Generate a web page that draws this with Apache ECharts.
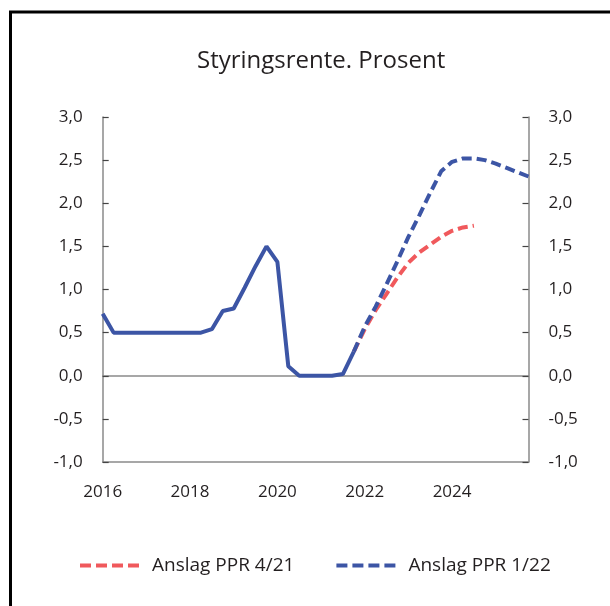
<!DOCTYPE html>
<html>
<head>
<meta charset="utf-8">
<script src="https://cdn.jsdelivr.net/npm/echarts@6/dist/echarts.min.js"></script>
<style>
  html, body { margin: 0; padding: 0; background: #fff; }
  #chart { width: 610px; height: 606px; }
</style>
</head>
<body>
<div id="chart"></div>
<script>
const title = 'Styringsrente. Prosent';
const quarters = [
  '2016K1','2016K2','2016K3','2016K4','2017K1','2017K2','2017K3','2017K4',
  '2018K1','2018K2','2018K3','2018K4','2019K1','2019K2','2019K3','2019K4',
  '2020K1','2020K2','2020K3','2020K4','2021K1','2021K2','2021K3','2021K4',
  '2022K1','2022K2','2022K3','2022K4','2023K1','2023K2','2023K3','2023K4',
  '2024K1','2024K2','2024K3','2024K4','2025K1','2025K2','2025K3','2025K4'
];
// Actual policy rate, 2016K1 - 2021K4
const historyValues = [0.72,0.5,0.5,0.5,0.5,0.5,0.5,0.5,0.5,0.5,0.54,0.75,0.78,1.02,1.27,1.5,1.32,0.11,0,0,0,0,0.02,0.28];
// Forecasts, starting 2021K4
const forecastStart = '2021K4';
const ppr421Values = [0.28,0.54,0.76,0.95,1.14,1.31,1.43,1.52,1.61,1.68,1.72,1.74];
const ppr122Values = [0.28,0.57,0.80,1.06,1.33,1.61,1.86,2.12,2.37,2.48,2.52,2.52,2.50,2.46,2.41,2.36,2.31];
const seriesNames = ['Anslag PPR 4/21', 'Anslag PPR 1/22'];
const yMin = -1, yMax = 3, yStep = 0.5;

const FONT = 'Open Sans';
const BLUE = '#3c55a5';
const RED = '#f0595c';
const AXIS = '#8a8a8a';
const TEXT = '#231f20';
const DASH_ICON = 'path://M0,0h11v4h-11z M16,0h11v4h-11z M32,0h11v4h-11z M48,0h11v4h-11z';

function fromStart(values) {
  const s = quarters.indexOf(forecastStart);
  return values.map((v, i) => [quarters[s + i], v]);
}
const fmt = v => v.toFixed(1).replace('.', ',');

const yAxisBase = {
  type: 'value', min: yMin, max: yMax, interval: yStep,
  axisLine: { show: true, lineStyle: { color: AXIS, width: 1.5 } },
  axisTick: { show: true, inside: true, length: 6, lineStyle: { color: '#444', width: 1.2 } },
  splitLine: { show: false },
  axisLabel: { formatter: fmt, color: TEXT, fontFamily: FONT, fontSize: 17, margin: 20 }
};

const chart = echarts.init(document.getElementById('chart'), null, { renderer: 'canvas' });
chart.setOption({
  animation: false,
  backgroundColor: '#fff',
  title: {
    text: title, left: 192, top: 44,
    textStyle: { fontFamily: FONT, fontSize: 24, fontWeight: 'normal', color: TEXT }
  },
  graphic: [{
    type: 'rect', silent: true,
    shape: { x: 10.5, y: 12, width: 800, height: 800 },
    style: { fill: 'none', stroke: '#000', lineWidth: 3 }
  }],
  grid: { left: 102.7, right: 81.5, top: 117, bottom: 144, containLabel: false },
  legend: {
    data: seriesNames.map(n => ({ name: n, icon: DASH_ICON })),
    left: 80, top: 556, padding: 0,
    itemWidth: 59, itemHeight: 4.5, itemGap: 42,
    textStyle: { fontFamily: FONT, fontSize: 19, color: TEXT, padding: [0, 0, 0, 8] }
  },
  xAxis: [{
    type: 'category', data: quarters, boundaryGap: false,
    axisLine: { onZero: false, lineStyle: { color: AXIS, width: 1.5 } },
    axisTick: { show: false },
    axisLabel: {
      interval: i => i % 8 === 0,
      formatter: v => v.slice(0, 4),
      color: TEXT, fontFamily: FONT, fontSize: 17, margin: 22
    },
    splitLine: { show: false }
  }, {
    type: 'category', data: quarters, boundaryGap: false, position: 'bottom',
    axisLine: { onZero: true, lineStyle: { color: AXIS, width: 1.5 } },
    axisTick: { show: false }, axisLabel: { show: false }, splitLine: { show: false }
  }],
  yAxis: [
    Object.assign({}, yAxisBase, { position: 'left' }),
    Object.assign({}, yAxisBase, { position: 'right' })
  ],
  series: [{
    name: seriesNames[0], type: 'line', symbol: 'none', z: 3,
    data: fromStart(ppr421Values),
    lineStyle: { color: RED, width: 4, type: [10, 5] },
    itemStyle: { color: RED }
  }, {
    name: seriesNames[1], type: 'line', symbol: 'none', z: 4,
    data: fromStart(ppr122Values),
    lineStyle: { color: BLUE, width: 4, type: [10, 5] },
    itemStyle: { color: BLUE }
  }, {
    name: 'Styringsrente', type: 'line', symbol: 'none', z: 5,
    data: historyValues.map((v, i) => [quarters[i], v]),
    lineStyle: { color: BLUE, width: 4, type: 'solid' },
    itemStyle: { color: BLUE }
  }]
});
</script>
</body>
</html>
